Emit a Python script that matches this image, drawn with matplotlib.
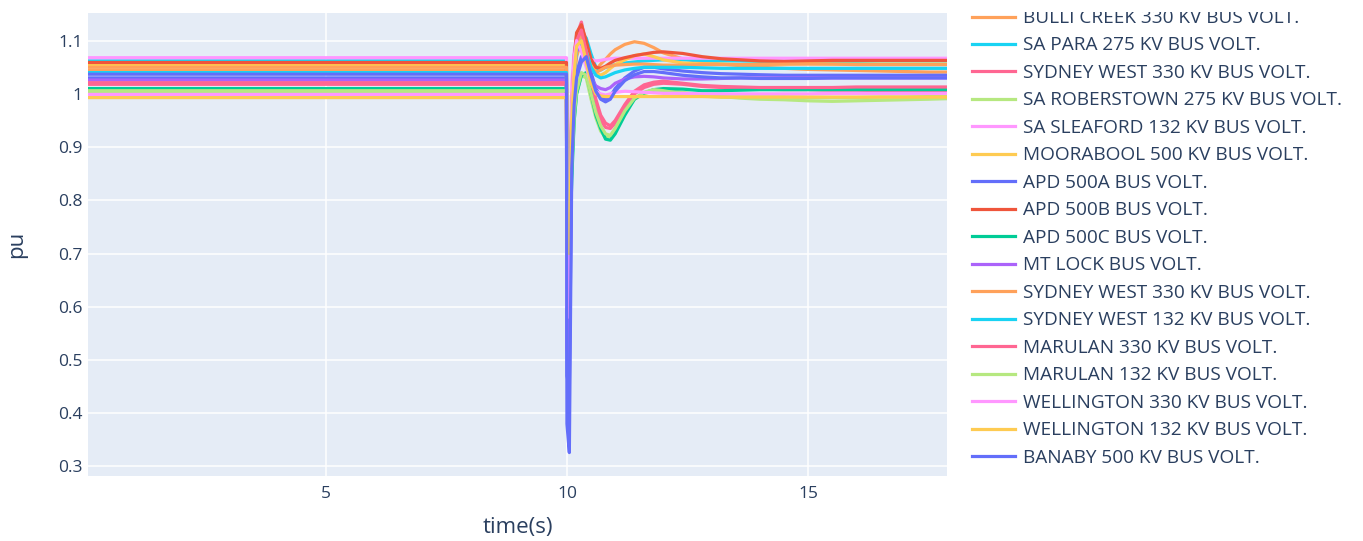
import matplotlib
matplotlib.use("Agg")
import matplotlib.pyplot as plt
from matplotlib.ticker import FuncFormatter

plt.rcParams['font.family'] = ['Open Sans', 'DejaVu Sans']

# Simulation time base (s): flat pre-fault, dense around the fault at 10 s
time_s = [0.07, 9.99, 10.0, 10.05, 10.1, 10.15, 10.2, 10.3, 10.4, 10.5, 10.6,
          10.7, 10.8, 10.9, 11.0, 11.2, 11.4, 11.6, 11.8, 12.0, 12.4, 12.8,
          13.2, 13.6, 14.0, 14.5, 15.0, 15.5, 16.0, 16.5, 17.0, 17.5, 17.88]

# Bus voltages (pu)
bulli_creek_330 = [1.044, 1.044, 0.62, 0.60, 0.93, 1.02, 1.07, 1.10, 1.085, 1.06, 1.045,
                   1.056, 1.065, 1.075, 1.083, 1.093, 1.098, 1.095, 1.087, 1.077, 1.066, 1.06,
                   1.056, 1.053, 1.05, 1.048, 1.046, 1.045, 1.044, 1.043, 1.042, 1.041, 1.041]
sa_para_275 = [1.062, 1.062, 0.80, 0.78, 0.97, 1.05, 1.09, 1.115, 1.105, 1.075, 1.05,
               1.045, 1.05, 1.052, 1.055, 1.058, 1.06, 1.062, 1.063, 1.064, 1.064, 1.063,
               1.062, 1.062, 1.061, 1.061, 1.061, 1.061, 1.061, 1.062, 1.062, 1.062, 1.062]
sydney_west_330_a = [1.018, 1.018, 0.66, 0.64, 0.96, 1.06, 1.11, 1.135, 1.09, 1.02, 0.975,
                     0.95, 0.937, 0.935, 0.945, 0.975, 1.0, 1.012, 1.018, 1.02, 1.018, 1.014,
                     1.012, 1.01, 1.009, 1.008, 1.008, 1.007, 1.007, 1.006, 1.006, 1.006, 1.006]
sa_roberstown_275 = [1.003, 1.003, 0.74, 0.72, 0.86, 0.95, 1.0, 1.035, 1.03, 0.99, 0.955,
                     0.93, 0.918, 0.92, 0.935, 0.965, 0.99, 1.0, 1.006, 1.008, 1.003, 0.998,
                     0.995, 0.992, 0.99, 0.989, 0.987, 0.986, 0.987, 0.988, 0.989, 0.99, 0.991]
sa_sleaford_132 = [1.068, 1.068, 0.82, 0.80, 1.02, 1.08, 1.10, 1.09, 1.075, 1.065, 1.062,
                   1.063, 1.065, 1.066, 1.067, 1.067, 1.067, 1.067, 1.067, 1.067, 1.067, 1.067,
                   1.067, 1.067, 1.067, 1.067, 1.067, 1.067, 1.067, 1.067, 1.067, 1.067, 1.067]
moorabool_500 = [1.055, 1.055, 0.78, 0.76, 0.98, 1.06, 1.10, 1.12, 1.095, 1.06, 1.04,
                 1.035, 1.04, 1.048, 1.055, 1.064, 1.072, 1.075, 1.07, 1.064, 1.058, 1.056,
                 1.056, 1.055, 1.056, 1.056, 1.057, 1.056, 1.056, 1.056, 1.056, 1.056, 1.056]
apd_500a = [1.03, 1.03, 0.47, 0.45, 0.88, 0.99, 1.04, 1.07, 1.079, 1.04, 1.01,
            0.995, 0.99, 0.995, 1.01, 1.03, 1.043, 1.05, 1.05, 1.047, 1.043, 1.04,
            1.038, 1.037, 1.036, 1.035, 1.035, 1.035, 1.035, 1.035, 1.035, 1.035, 1.035]
apd_500b = [1.059, 1.059, 0.70, 0.68, 0.97, 1.07, 1.115, 1.13, 1.10, 1.065, 1.05,
            1.048, 1.052, 1.058, 1.063, 1.068, 1.072, 1.075, 1.078, 1.079, 1.076, 1.07,
            1.066, 1.064, 1.062, 1.061, 1.062, 1.063, 1.063, 1.063, 1.063, 1.063, 1.063]
apd_500c = [1.01, 1.01, 0.70, 0.68, 0.84, 0.95, 1.0, 1.035, 1.04, 1.0, 0.96,
            0.935, 0.915, 0.913, 0.925, 0.96, 0.99, 1.002, 1.008, 1.01, 1.009, 1.006,
            1.006, 1.007, 1.008, 1.008, 1.008, 1.008, 1.008, 1.008, 1.008, 1.008, 1.008]
mt_lock = [1.026, 1.026, 0.52, 0.50, 0.93, 1.04, 1.08, 1.09, 1.06, 1.03, 1.015,
           1.01, 1.008, 1.012, 1.02, 1.028, 1.032, 1.033, 1.032, 1.03, 1.028, 1.028,
           1.029, 1.03, 1.03, 1.03, 1.03, 1.03, 1.03, 1.03, 1.03, 1.03, 1.03]
sydney_west_330_b = [1.05, 1.05, 0.75, 0.73, 0.96, 1.05, 1.09, 1.11, 1.08, 1.05, 1.04,
                     1.045, 1.05, 1.052, 1.054, 1.055, 1.056, 1.056, 1.055, 1.054, 1.054, 1.055,
                     1.055, 1.055, 1.055, 1.056, 1.056, 1.056, 1.055, 1.055, 1.055, 1.055, 1.055]
sydney_west_132 = [1.04, 1.04, 0.78, 0.76, 0.95, 1.04, 1.085, 1.10, 1.08, 1.05, 1.035,
                   1.03, 1.032, 1.036, 1.04, 1.045, 1.048, 1.05, 1.05, 1.05, 1.05, 1.049,
                   1.048, 1.048, 1.048, 1.048, 1.048, 1.048, 1.048, 1.048, 1.048, 1.048, 1.048]
marulan_330 = [1.021, 1.021, 0.68, 0.66, 0.95, 1.05, 1.10, 1.12, 1.08, 1.03, 0.99,
               0.96, 0.945, 0.94, 0.95, 0.98, 1.005, 1.017, 1.022, 1.024, 1.02, 1.016,
               1.014, 1.013, 1.012, 1.012, 1.012, 1.012, 1.013, 1.013, 1.013, 1.013, 1.013]
marulan_132 = [1.006, 1.006, 0.76, 0.74, 0.87, 0.96, 1.005, 1.04, 1.035, 1.0, 0.965,
               0.94, 0.925, 0.922, 0.935, 0.968, 0.992, 1.003, 1.008, 1.006, 1.0, 0.996,
               0.994, 0.994, 0.994, 0.994, 0.993, 0.993, 0.993, 0.994, 0.994, 0.995, 0.995]
wellington_330 = [0.999, 0.999, 0.60, 0.58, 0.98, 1.07, 1.10, 1.08, 1.05, 1.02, 1.005,
                  1.0, 0.998, 1.0, 1.003, 1.005, 1.004, 1.003, 1.002, 1.001, 1.001, 1.0,
                  1.0, 1.0, 1.0, 1.0, 1.0, 1.001, 1.001, 1.001, 1.001, 1.001, 1.001]
wellington_132 = [0.993, 0.993, 0.72, 0.70, 0.95, 1.04, 1.09, 1.10, 1.06, 1.02, 1.0,
                  0.996, 0.995, 0.995, 0.995, 0.995, 0.995, 0.995, 0.995, 0.995, 0.995, 0.995,
                  0.994, 0.994, 0.994, 0.994, 0.994, 0.994, 0.994, 0.994, 0.994, 0.994, 0.994]
banaby_500 = [1.037, 1.037, 0.38, 0.326, 0.86, 0.98, 1.03, 1.06, 1.07, 1.035, 1.005,
              0.99, 0.985, 0.99, 1.005, 1.025, 1.036, 1.042, 1.042, 1.04, 1.035, 1.032,
              1.03, 1.03, 1.029, 1.029, 1.029, 1.03, 1.03, 1.03, 1.03, 1.03, 1.03]

series_names = [
    "BULLI CREEK 330 KV BUS VOLT.",
    "SA PARA 275 KV BUS VOLT.",
    "SYDNEY WEST 330 KV BUS VOLT.",
    "SA ROBERSTOWN 275 KV BUS VOLT.",
    "SA SLEAFORD 132 KV BUS VOLT.",
    "MOORABOOL 500 KV BUS VOLT.",
    "APD 500A BUS VOLT.",
    "APD 500B BUS VOLT.",
    "APD 500C BUS VOLT.",
    "MT LOCK BUS VOLT.",
    "SYDNEY WEST 330 KV BUS VOLT.",
    "SYDNEY WEST 132 KV BUS VOLT.",
    "MARULAN 330 KV BUS VOLT.",
    "MARULAN 132 KV BUS VOLT.",
    "WELLINGTON 330 KV BUS VOLT.",
    "WELLINGTON 132 KV BUS VOLT.",
    "BANABY 500 KV BUS VOLT.",
]
series_values = [
    bulli_creek_330, sa_para_275, sydney_west_330_a, sa_roberstown_275,
    sa_sleaford_132, moorabool_500, apd_500a, apd_500b, apd_500c, mt_lock,
    sydney_west_330_b, sydney_west_132, marulan_330, marulan_132,
    wellington_330, wellington_132, banaby_500,
]
series_colors = [
    "#FFA15A", "#19D3F3", "#FF6692", "#B6E880", "#FF97FF", "#FECB52",
    "#636EFA", "#EF553B", "#00CC96", "#AB63FA",
    "#FFA15A", "#19D3F3", "#FF6692", "#B6E880", "#FF97FF", "#FECB52",
    "#636EFA",
]
y_ticks = [0.3, 0.4, 0.5, 0.6, 0.7, 0.8, 0.9, 1.0, 1.1]
x_ticks = [5, 10, 15]

for v in series_values:
    assert len(v) == len(time_s)

W, H = 1363, 541
fig = plt.figure(figsize=(W / 100, H / 100), dpi=100)
fig.patch.set_facecolor("white")

# plot area in pixels
L, R, T, B = 88, 947, 13, 476
ax = fig.add_axes([L / W, 1 - B / H, (R - L) / W, (B - T) / H])
ax.set_facecolor("#E5ECF6")
for sp in ax.spines.values():
    sp.set_visible(False)

for name, vals, col in zip(series_names, series_values, series_colors):
    ax.plot(time_s, vals, color=col, lw=2.3, label=name,
            solid_joinstyle="round", solid_capstyle="round")

ax.set_xlim(0.07, 17.88)
ax.set_ylim(0.282, 1.152)
ax.set_xticks(x_ticks)
ax.set_yticks(y_ticks)
ax.yaxis.set_major_formatter(FuncFormatter(lambda v, p: f"{v:g}"))
ax.grid(True, color="white", lw=1.1)
ax.set_axisbelow(True)
ax.tick_params(length=0, labelsize=12.5, labelcolor="#2a3f5f")
ax.tick_params(axis="y", pad=4)
ax.tick_params(axis="x", pad=7)

ax.set_xlabel("time(s)", fontsize=16, color="#2a3f5f")
ax.xaxis.set_label_coords(0.5, -(527 - B) / (B - T))
ax.xaxis.label.set_va("center")
ax.set_ylabel("pu", fontsize=16, color="#2a3f5f")
ax.yaxis.set_label_coords(-(L - 17) / (R - L), 0.5)
ax.yaxis.label.set_va("center")

# scrolled legend panel, clipped to its box
LX0, LY0, LY1 = 955, 12, 476
lax = fig.add_axes([LX0 / W, 1 - LY1 / H, (W - LX0) / W, (LY1 - LY0) / H])
lax.set_xlim(LX0, W)
lax.set_ylim(LY1, LY0)
lax.axis("off")
row_h = 27.47
for i, (name, col) in enumerate(zip(series_names, series_colors)):
    y = 16.5 + row_h * i
    lax.plot([972, 1015], [y, y], color=col, lw=2.3, clip_on=True)
    lax.text(1023, y + 6.5, name, fontsize=13.7, color="#2a3f5f",
             va="baseline", ha="left", clip_on=True)

fig.savefig("out.png", dpi=100, facecolor="white")
